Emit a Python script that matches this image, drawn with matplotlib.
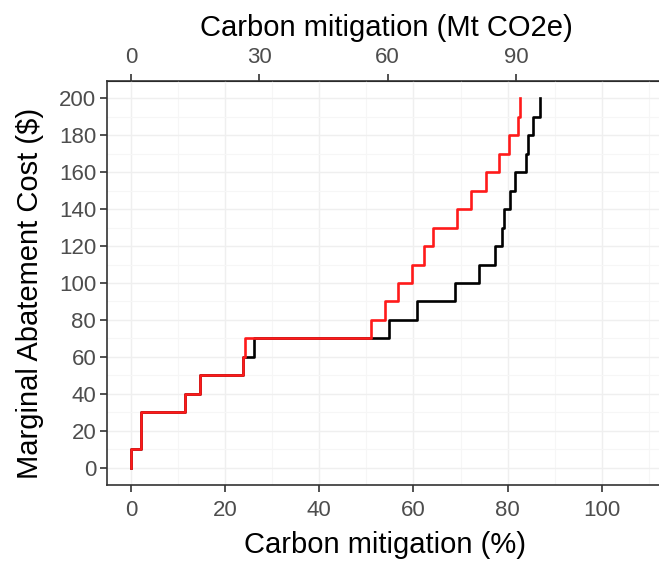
import matplotlib
matplotlib.use('Agg')
import matplotlib.pyplot as plt

plt.rcParams['font.family'] = ['Liberation Sans', 'DejaVu Sans']

# cost levels ($) and mitigation (%) where each level starts
cost = [0, 10, 30, 40, 50, 60, 70, 80, 90, 100, 110, 120, 130, 140, 150, 160, 170, 180, 190, 200]
red_x = [0, 0, 2.05, 11.45, 14.6, 23.8, 24.3, 51.0, 53.9, 56.8, 59.7, 62.2, 64.1, 69.3, 72.3, 75.4, 78.1, 80.2, 82.1, 82.7]
black_x = [0, 0, 2.05, 11.45, 14.6, 23.8, 26.2, 54.8, 60.7, 68.9, 74.0, 77.3, 78.7, 79.3, 80.5, 81.6, 83.8, 84.3, 85.3, 86.9]

mt_per_pct = 1.1  # 100 % = 110 Mt CO2e

fig = plt.figure(figsize=(6.59, 5.63), dpi=100)
ax = fig.add_axes([107.3/659, 1-485/563, (672-107.3)/659, (485-81)/563])

ax.step(black_x, cost, where='post', color='black', lw=1.9, zorder=3)
ax.step(red_x, cost, where='post', color='#ff1a1a', lw=1.9, zorder=4)

ax.set_xlim(-5, 114.9)
ax.set_ylim(-9.4, 209.4)
ax.set_xticks([0, 20, 40, 60, 80, 100])
ax.set_yticks(range(0, 201, 20))
ax.set_yticks(range(10, 200, 20), minor=True)
ax.set_xticks([10, 30, 50, 70, 90, 110], minor=True)
ax.grid(True, which='major', color='#efefef', lw=1.0)
ax.grid(True, which='minor', color='#f6f6f6', lw=0.8)
ax.set_axisbelow(True)

for s in ['left', 'bottom', 'top']:
    ax.spines[s].set_color('#333333')
    ax.spines[s].set_linewidth(1.2)
ax.spines['right'].set_visible(False)

ax.tick_params(axis='both', which='major', direction='out', length=5, width=1.2,
               color='#333333', labelsize=16, labelcolor='#4d4d4d', pad=3)
ax.tick_params(axis='x', which='major', pad=6)
ax.tick_params(axis='both', which='minor', length=0)

ax.set_xlabel('Carbon mitigation (%)', fontsize=21, labelpad=7)
ax.xaxis.label.set_x((385-107.3)/(672-107.3))
ax.set_ylabel('Marginal Abatement Cost ($)', fontsize=21, labelpad=11)
ax.yaxis.label.set_y((485-293)/404)

top = ax.secondary_xaxis('top', functions=(lambda x: x*mt_per_pct, lambda x: x/mt_per_pct))
top.set_xticks([0, 30, 60, 90])
top.tick_params(direction='out', length=5, width=1.2, color='#333333',
                labelsize=16, labelcolor='#4d4d4d', pad=4)
top.set_xlabel('Carbon mitigation (Mt CO2e)', fontsize=21, labelpad=8)
top.xaxis.label.set_x((386-107.3)/(672-107.3))

fig.savefig('out.png', dpi=100, facecolor='white')
